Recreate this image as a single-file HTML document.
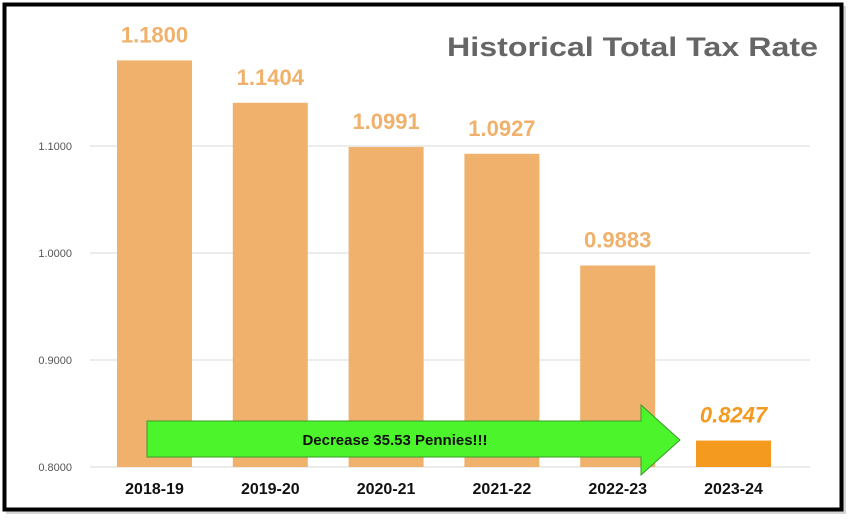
<!DOCTYPE html>
<html><head><meta charset="utf-8"><style>
html,body{margin:0;padding:0;background:#fff;}
svg{display:block;font-family:"Liberation Sans",Arial,sans-serif;}
</style></head><body>
<svg width="850" height="520" viewBox="0 0 850 520">
<rect x="6" y="6" width="840" height="508" fill="#888" opacity="0.35"/>
<rect x="4.5" y="4.5" width="837" height="505" fill="#fff" stroke="#000" stroke-width="4"/>
<text x="818" y="56" text-anchor="end" font-size="27" font-weight="bold" fill="#666" textLength="371" lengthAdjust="spacingAndGlyphs">Historical Total Tax Rate</text>
<g id="grid"></g>
<g id="bars"></g>
<g>
<polygon points="147,421 641,421 641,405 680,440 641,475 641,457 147,457" fill="#4cf42c" stroke="#3a9a2a" stroke-width="1"/>
<text x="395" y="445" text-anchor="middle" font-size="15" font-weight="bold" fill="#111">Decrease 35.53 Pennies!!!</text>
</g>
</svg>
<script>
const categories=["2018-19","2019-20","2020-21","2021-22","2022-23","2023-24"];
const values=[1.1800,1.1404,1.0991,1.0927,0.9883,0.8247];
const valueLabels=["1.1800","1.1404","1.0991","1.0927","0.9883","0.8247"];
const ticks=[0.8,0.9,1.0,1.1];
const tickLabels=["0.8000","0.9000","1.0000","1.1000"];
const NS="http://www.w3.org/2000/svg";
const y=v=>467-(v-0.8)*1070;
const x=i=>154.5+i*115.8;
const grid=document.getElementById('grid'),bars=document.getElementById('bars');
function mk(tag,a,p){const e=document.createElementNS(NS,tag);for(const k in a)e.setAttribute(k,a[k]);p.appendChild(e);return e;}
ticks.forEach((t,i)=>{
 const l=mk('line',{x1:90,x2:810,y1:y(t),y2:y(t),stroke:'#d9d9d9','stroke-width':1},grid);
 
 
 const tx=mk('text',{x:72,y:y(t)+4,'text-anchor':'end','font-size':11,fill:'#555'},grid);
 tx.textContent=tickLabels[i];
 
 
});
categories.forEach((c,i)=>{
 const last=i===categories.length-1;
 const r=mk('rect',{x:x(i)-37.5,y:y(values[i]),width:75,height:467-y(values[i]),fill:last?'#f39a1f':'#efb16b'},bars);
 
 
 const v=mk('text',{x:x(i),y:y(values[i])-18,'text-anchor':'middle','font-size':22,'font-weight':'bold',fill:last?'#f39a1f':'#efb16b','font-style':last?'italic':'normal'},bars);
 v.textContent=valueLabels[i];
 
 
 const cl=mk('text',{x:x(i),y:494,'text-anchor':'middle','font-size':16,'font-weight':'bold',fill:'#111'},bars);
 cl.textContent=c;
 
 
});
</script>
</body></html>
